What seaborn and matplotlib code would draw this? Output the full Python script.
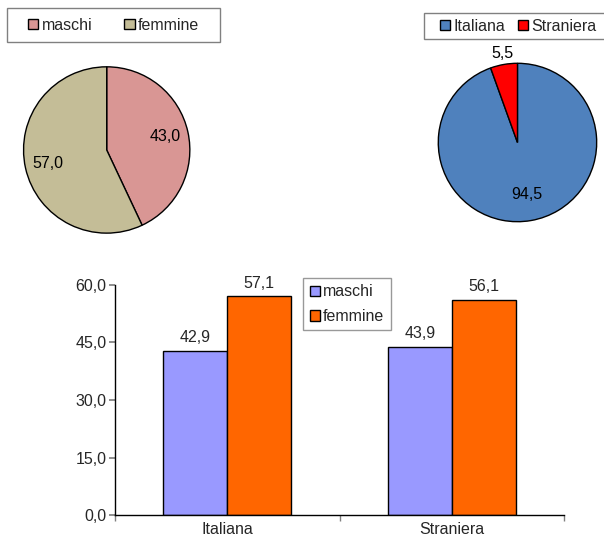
import matplotlib
matplotlib.use("Agg")
import matplotlib.pyplot as plt
import pandas as pd
import seaborn as sns
from matplotlib.patches import Rectangle

# pie 1: sesso
sex_labels = ["maschi", "femmine"]
sex_values = [43.0, 57.0]
sex_colors = ["#D99694", "#C4BD97"]

# pie 2: cittadinanza
cit_labels = ["Italiana", "Straniera"]
cit_values = [94.5, 5.5]
cit_colors = ["#4F81BD", "#FF0000"]

# bar chart: sesso per cittadinanza
bar_categories = ["Italiana", "Straniera"]
bar_maschi = [42.9, 43.9]
bar_femmine = [57.1, 56.1]
bar_colors = ["#9999FF", "#FF6600"]
y_ticks = [0, 15, 30, 45, 60]

FS = 11.5

sns.set_theme(style="white")
plt.rcParams["font.family"] = ["Liberation Sans", "DejaVu Sans"]
plt.rcParams["font.size"] = FS


def it_fmt(v):
    return f"{v:.1f}".replace(".", ",")


def legend_box(fig, box):
    # Excel-style legend frame, independent of the legend content
    fig.patches.append(Rectangle(box[:2], box[2], box[3], transform=fig.transFigure,
                                 facecolor="white", edgecolor="#808080", linewidth=1.0))


fig = plt.figure(figsize=(6.04, 5.42), dpi=100)

# ── pie sesso ─────────────────────────────────────────────
ax1 = fig.add_axes([0.0376, 0.5683, 0.2781, 0.31])
wedges, _, autotexts = ax1.pie(
    sex_values, colors=sex_colors, startangle=90, counterclock=False,
    autopct=lambda p: it_fmt(p), pctdistance=0.72,
    wedgeprops=dict(edgecolor="black", linewidth=1.0),
    textprops=dict(fontsize=FS, color="black"),
)
ax1.set_xlim(-1.01, 1.01)
ax1.set_ylim(-1.01, 1.01)
ax1.set_aspect("equal")
box1 = (0.0116, 0.9225, 0.3527, 0.0627)
legend_box(fig, box1)
fig.legend(wedges, sex_labels, loc="center", bbox_to_anchor=box1,
           ncol=2, frameon=False, borderaxespad=0, borderpad=0,
           handlelength=0.65, handleheight=0.65, handletextpad=0.2,
           columnspacing=2.0, fontsize=FS)

# ── pie cittadinanza ──────────────────────────────────────
ax2 = fig.add_axes([0.7243, 0.5895, 0.2649, 0.2952])
wedges2, _, autotexts2 = ax2.pie(
    cit_values, colors=cit_colors, startangle=90, counterclock=False,
    autopct=lambda p: it_fmt(p), pctdistance=0.67,
    wedgeprops=dict(edgecolor="black", linewidth=1.0),
    textprops=dict(fontsize=FS, color="black"),
)
# small slice label goes outside the pie
x, y = autotexts2[1].get_position()
autotexts2[1].set_position((x * 1.14 / 0.67, y * 1.14 / 0.67))
ax2.set_xlim(-1.01, 1.01)
ax2.set_ylim(-1.01, 1.01)
ax2.set_aspect("equal")
box2 = (0.702, 0.928, 0.36, 0.048)  # runs past the right edge, as in the original
legend_box(fig, box2)
fig.legend(wedges2, cit_labels, loc="center left", bbox_to_anchor=(0.728, box2[1], 0.3, box2[3]),
           ncol=2, frameon=False, borderaxespad=0, borderpad=0,
           handlelength=0.65, handleheight=0.65, handletextpad=0.2,
           columnspacing=0.8, fontsize=FS)

# ── bar chart ─────────────────────────────────────────────
df = pd.DataFrame({
    "cittadinanza": bar_categories * 2,
    "sesso": ["maschi"] * len(bar_categories) + ["femmine"] * len(bar_categories),
    "valore": bar_maschi + bar_femmine,
})
ax3 = fig.add_axes([0.1904, 0.0498, 0.7434, 0.4244])
sns.barplot(data=df, x="cittadinanza", y="valore", hue="sesso", palette=bar_colors,
            width=0.57, gap=0, edgecolor="black", linewidth=1.0, saturation=1, ax=ax3)
for cont, vals in zip(ax3.containers, [bar_maschi, bar_femmine]):
    ax3.bar_label(cont, labels=[it_fmt(v) for v in vals], padding=4, fontsize=FS)

ax3.set_xlim(-0.5, 1.5)
ax3.set_ylim(0, 60)
ax3.set_yticks(y_ticks)
ax3.set_yticklabels([it_fmt(v) for v in y_ticks])
ax3.set_xticks([-0.5, 0.5, 1.5], minor=True)
ax3.tick_params(axis="x", which="major", length=0, pad=5, labelsize=FS)
ax3.tick_params(axis="x", which="minor", length=4, color="#808080", direction="out", bottom=True)
ax3.tick_params(axis="y", length=4, color="#808080", direction="out", left=True, labelsize=FS, pad=2)
ax3.set_xlabel("")
ax3.set_ylabel("")
for side in ["top", "right"]:
    ax3.spines[side].set_visible(False)
for side in ["left", "bottom"]:
    ax3.spines[side].set_color("black")
    ax3.spines[side].set_linewidth(1.0)

ax3.legend(loc="upper left", bbox_to_anchor=(0.419, 1.03), frameon=True, fancybox=False,
           edgecolor="#808080", borderaxespad=0, borderpad=0.4, handlelength=0.65,
           handleheight=0.65, handletextpad=0.2, labelspacing=0.6, fontsize=FS)

fig.savefig("out.png", dpi=100)
